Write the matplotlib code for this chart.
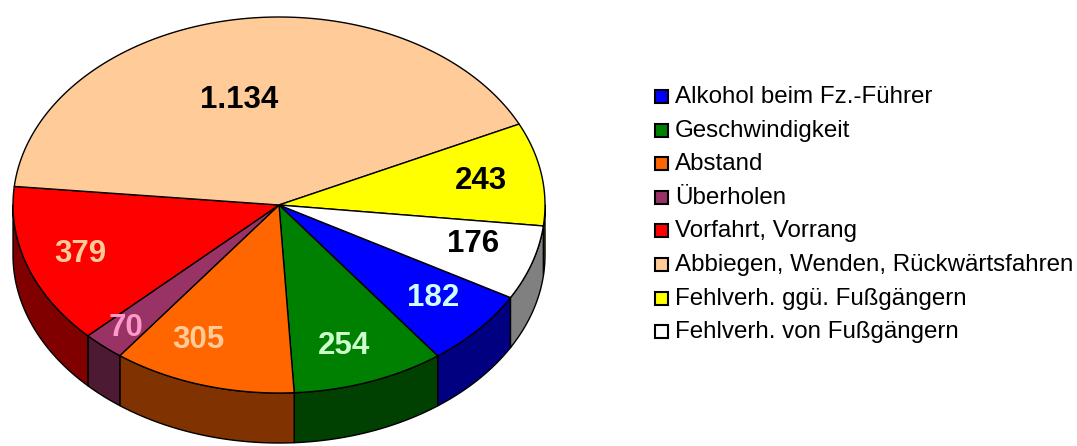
import numpy as np
import matplotlib.pyplot as plt
from matplotlib.patches import Polygon, Rectangle

plt.rcParams['font.family'] = ['Liberation Sans', 'DejaVu Sans']

# data
labels = ['Alkohol beim Fz.-Führer', 'Geschwindigkeit', 'Abstand', 'Überholen',
          'Vorfahrt, Vorrang', 'Abbiegen, Wenden, Rückwärtsfahren',
          'Fehlverh. ggü. Fußgängern', 'Fehlverh. von Fußgängern']
values = [182, 254, 305, 70, 379, 1134, 243, 176]

colors = ['#0000FF', '#008000', '#FF6600', '#993366', '#FF0000', '#FFCC99', '#FFFF00', '#FFFFFF']
side_colors = ['#000080', '#004000', '#803300', '#4D1A33', '#800000', '#806650', '#808000', '#808080']
text_colors = ['#CCFFFF', '#CCFFCC', '#FFCC99', '#FF99CC', '#FFCC99', 'black', 'black', 'black']
# label placement (fraction of radius, angle nudge for the perspective)
label_r = [0.76, 0.79, 0.78, 0.87, 0.79, 0.58, 0.77, 0.76]
label_da = [1, -2, -6, 0, 0, 5, 0, 2]

# geometry of the pie (pixel units)
cx, cy = 279, 205
rx, ry = 266, 188
depth = 50
start = -29.5

fig = plt.figure(figsize=(10.77, 4.46), dpi=100)
ax = fig.add_axes([0, 0, 1, 1])
ax.set_xlim(0, 1077)
ax.set_ylim(446, 0)
ax.axis('off')


def arc(a0, a1, n=200, dy=0):
    t = np.radians(np.linspace(a0, a1, n))
    return np.column_stack([cx + rx * np.cos(t), cy - ry * np.sin(t) + dy])


total = sum(values)
angles = []
a = start
for v in values:
    span = v / total * 360
    angles.append((a, a - span))
    a -= span

# side walls (front half only)
for (a0, a1), sc in zip(angles, side_colors):
    lo, hi = a1, a0
    for k in (-2, -1, 0, 1):
        s0, s1 = -180 + 360 * k, 0 + 360 * k
        l, h = max(lo, s0), min(hi, s1)
        if h > l:
            top = arc(l, h)
            bot = arc(h, l, dy=depth)
            ax.add_patch(Polygon(np.vstack([top, bot]), closed=True, facecolor=sc,
                                 edgecolor='black', lw=1.0, joinstyle='round'))

# top faces
for (a0, a1), c in zip(angles, colors):
    pts = np.vstack([[cx, cy], arc(a0, a1)])
    ax.add_patch(Polygon(pts, closed=True, facecolor=c, edgecolor='black', lw=1.0,
                         joinstyle='round'))

# value labels
for (a0, a1), v, tc, r, da in zip(angles, values, text_colors, label_r, label_da):
    m = np.radians((a0 + a1) / 2 + da)
    x = cx + r * rx * np.cos(m)
    y = cy - r * ry * np.sin(m)
    ax.text(x, y, f'{v:,}'.replace(',', '.'), ha='center', va='center',
            fontsize=22.5, fontweight='bold', color=tc)

# legend
for i, (lab, c) in enumerate(zip(labels, colors)):
    y = 97 + i * 33.6
    ax.add_patch(Rectangle((654.5, y - 7), 13, 13, facecolor=c, edgecolor='black', lw=1.5))
    ax.text(675, y, lab, ha='left', va='center', fontsize=17.4, color='black')

fig.savefig('out.png', dpi=100)
